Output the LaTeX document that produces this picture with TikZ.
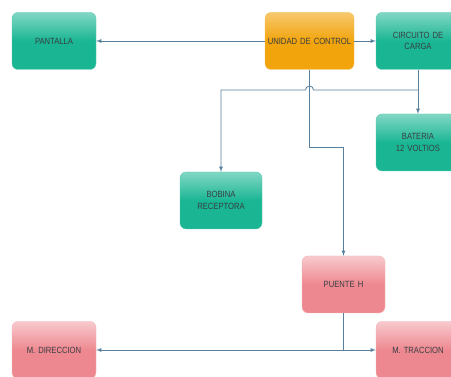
\documentclass[tikz,border=0pt]{standalone}
\usepackage{fontspec}
\setmainfont[FakeStretch=0.85]{Liberation Sans}
\usepackage{tikz}
\usetikzlibrary{positioning, arrows, calc}

\definecolor{boxgreen}{RGB}{26,182,148}
\definecolor{boxorange}{RGB}{242,164,12}
\definecolor{boxpink}{RGB}{238,136,144}
\definecolor{linkblue}{RGB}{88,128,158}
\definecolor{labelgray}{RGB}{55,62,66}

\tikzset{
	block/.style={rectangle, rounded corners=6pt, minimum width=84pt, minimum height=57pt,
		inner sep=0pt, text width=84pt, align=center, text=labelgray,
		font=\fontsize{9}{11.5}\selectfont},
	greenblock/.style={block, draw=boxgreen!70!white, top color=boxgreen!55!white, bottom color=boxgreen, middle color=boxgreen},
	orangeblock/.style={block, draw=boxorange!70!white, top color=boxorange!60!white, bottom color=boxorange, middle color=boxorange},
	pinkblock/.style={block, draw=boxpink!60!white, top color=boxpink!45!white, bottom color=boxpink, middle color=boxpink},
	link/.style={draw=linkblue, line width=0.8pt},
}

\begin{document}
\begin{tikzpicture}[x=1pt,y=-1pt,>=latex,node distance=2cm,on grid]
	
	\clip (0,0) rectangle (451,377);
	\fill[white] (0,0) rectangle (451,377);
	
	%Bloques
	\node[greenblock] (pantalla) at (54,41) {PANTALLA};
	\node[orangeblock, minimum width=89pt, text width=89pt] (control) [right=255.5pt of pantalla] {UNIDAD DE CONTROL};
	\node[greenblock] (circuito) [right=108.5pt of control] {CIRCUITO DE\\CARGA};
	\node[greenblock] (bateria) [below=101.5pt of circuito] {BATERIA\\12 VOLTIOS};
	\node[greenblock, minimum width=82pt, text width=82pt] (bobina) [below left=159.5pt and 88.5pt of control] {BOBINA\\RECEPTORA};
	\node[pinkblock, minimum width=83pt, text width=83pt] (puente) [below right=243.5pt and 34pt of control] {PUENTE H};
	\node[pinkblock] (direccion) [below=309pt of pantalla] {M. DIRECCION};
	\node[pinkblock] (traccion) [below=309pt of circuito] {M. TRACCION};
	
	%Puntos de paso
	\coordinate (split) at (418,90);
	\coordinate (bend) at (309.5,147);
	
	%Conexiones
	\path[link,->] (control) -- (pantalla);
	\path[link,->] (control) -- (circuito);
	\path[link,->] (circuito) -- (bateria);
	\path[link,->] (split) -- ($(control.south |- split)+(4,0)$)
		arc[start angle=0, end angle=180, radius=4pt] -| (bobina.north);
	\path[link,->] (control.south) -- (bend) -| (puente.north);
	\path[link,->] (puente.south) |- (direccion.east);
	\path[link,->] (puente.south) |- (traccion.west);
	
\end{tikzpicture}
\end{document}
